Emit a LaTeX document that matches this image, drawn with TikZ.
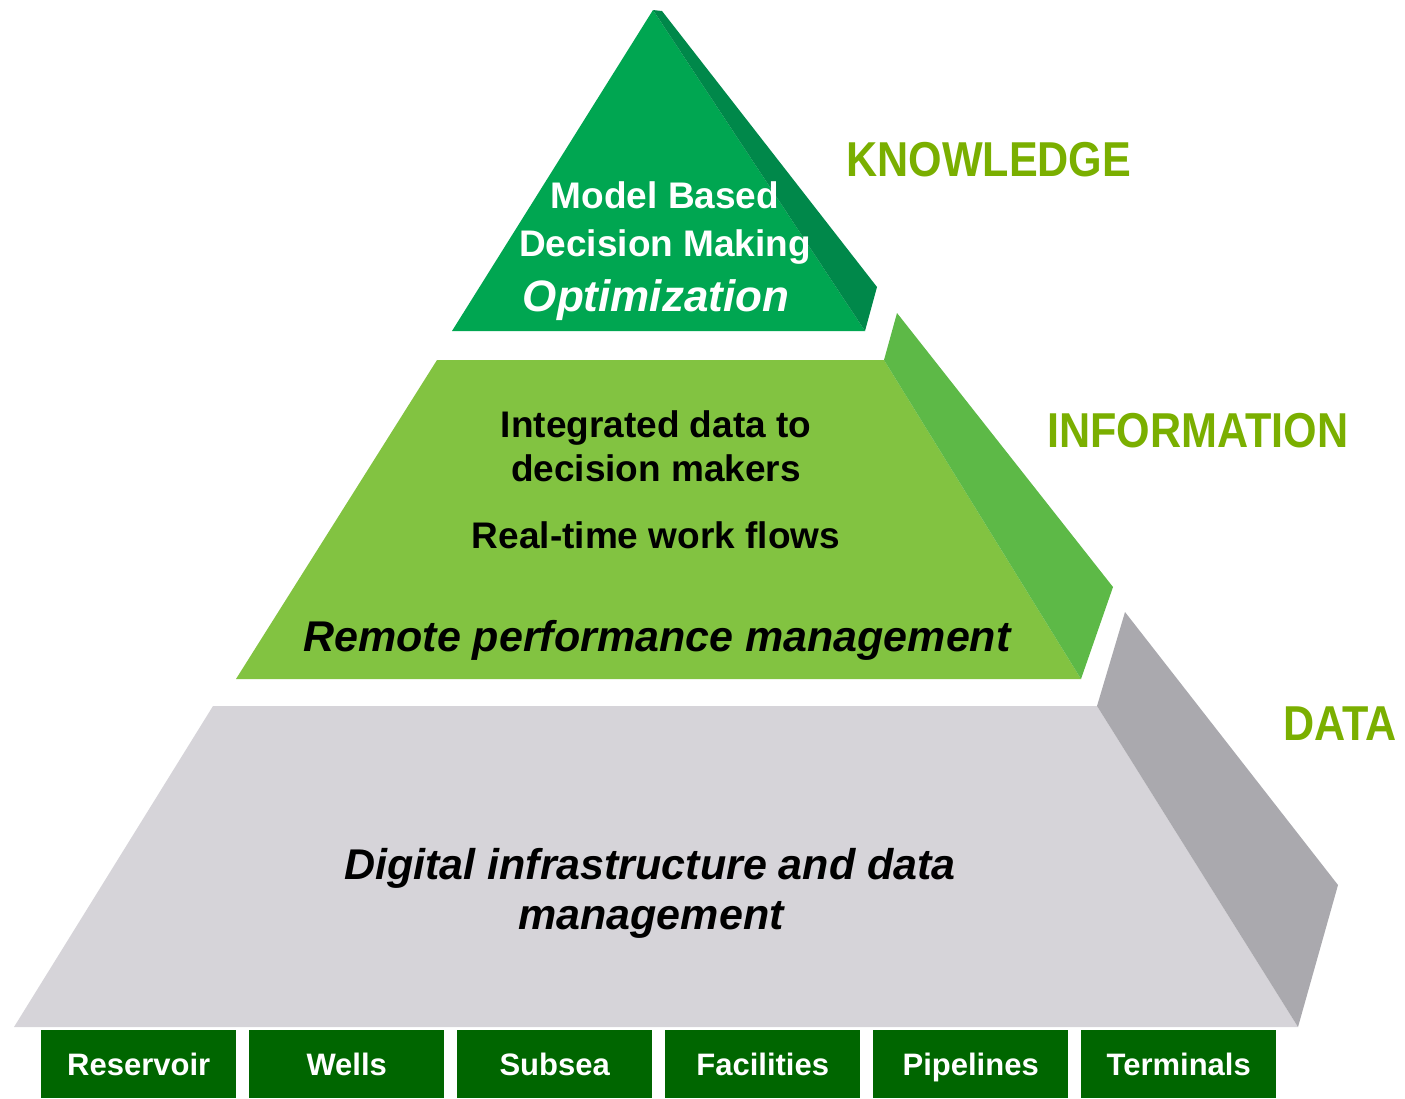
\documentclass[tikz,border=0pt]{standalone}
\usepackage{fontspec}
\setmainfont{Liberation Sans}
\newfontfamily\condfont[FakeStretch=0.88]{Liberation Sans}
\definecolor{lvlgreen}{HTML}{7AAF00}
\definecolor{topfront}{HTML}{00A651}
\definecolor{topside}{HTML}{00884A}
\definecolor{midfront}{HTML}{82C341}
\definecolor{midside}{HTML}{5DB947}
\definecolor{botfront}{HTML}{D6D4D9}
\definecolor{botside}{HTML}{AAA9AE}
\definecolor{boxgreen}{HTML}{006600}
\tikzset{
  lvl/.style={anchor=base west, inner sep=0pt, text=lvlgreen, font=\condfont\bfseries\fontsize{49}{56}\selectfont},
  txt/.style={anchor=base, inner sep=0pt, font=\bfseries\fontsize{37}{44}\selectfont},
  ittxt/.style={anchor=base, inner sep=0pt, font=\bfseries\itshape\fontsize{43}{50}\selectfont},
  srcbox/.style={fill=boxgreen, minimum width=195pt, minimum height=68pt, inner sep=0pt, text=white, font=\bfseries\fontsize{31}{36}\selectfont, anchor=north west, text depth=0pt}
}
\begin{document}
\begin{tikzpicture}[x=1pt,y=-1pt]
\useasboundingbox (0,0) rectangle (1405,1098);
% top level
\fill[topfront] (653,10) -- (865,331) -- (452,331) -- cycle;
\fill[topside] (653,10) -- (662,11) -- (877,287) -- (865,331) -- cycle;
% middle level
\fill[midfront] (437,360) -- (884,360) -- (1081,679) -- (236,679) -- cycle;
\fill[midside] (884,360) -- (897,313) -- (1113,587) -- (1081,679) -- cycle;
% bottom level
\fill[botfront] (213,706) -- (1097,706) -- (1298,1027) -- (14,1027) -- cycle;
\fill[botside] (1097,706) -- (1125,612) -- (1338,885) -- (1298,1027) -- cycle;
% texts
\node[txt, text=white] (t1) at (665,208) {Model Based};
\node[txt, text=white] (t2) at (665,256) {Decision Making};
\node[ittxt, text=white, font=\bfseries\itshape\fontsize{44}{50}\selectfont] (t3) at (656,311) {Optimization};
\node[txt] (m1) at (656,437) {Integrated data to};
\node[txt] (m2) at (656,481) {decision makers};
\node[txt] (m3) at (656,548) {Real-time work flows};
\node[ittxt] (m4) at (657,651) {Remote performance management};
\node[ittxt] (b1) at (650,879) {Digital infrastructure and data};
\node[ittxt] (b2) at (651,929) {management};
% level labels
\node[lvl] (know) at (846,176) {KNOWLEDGE};
\node[lvl] (info) at (1047,447) {INFORMATION};
\node[lvl] (data) at (1283,740) {DATA};
% source boxes
\node[srcbox] (s1) at (41,1030) {Reservoir};
\node[srcbox] (s2) at (249,1030) {Wells};
\node[srcbox] (s3) at (457,1030) {Subsea};
\node[srcbox] (s4) at (665,1030) {Facilities};
\node[srcbox] (s5) at (873,1030) {Pipelines};
\node[srcbox] (s6) at (1081,1030) {Terminals};
\end{tikzpicture}
\end{document}
